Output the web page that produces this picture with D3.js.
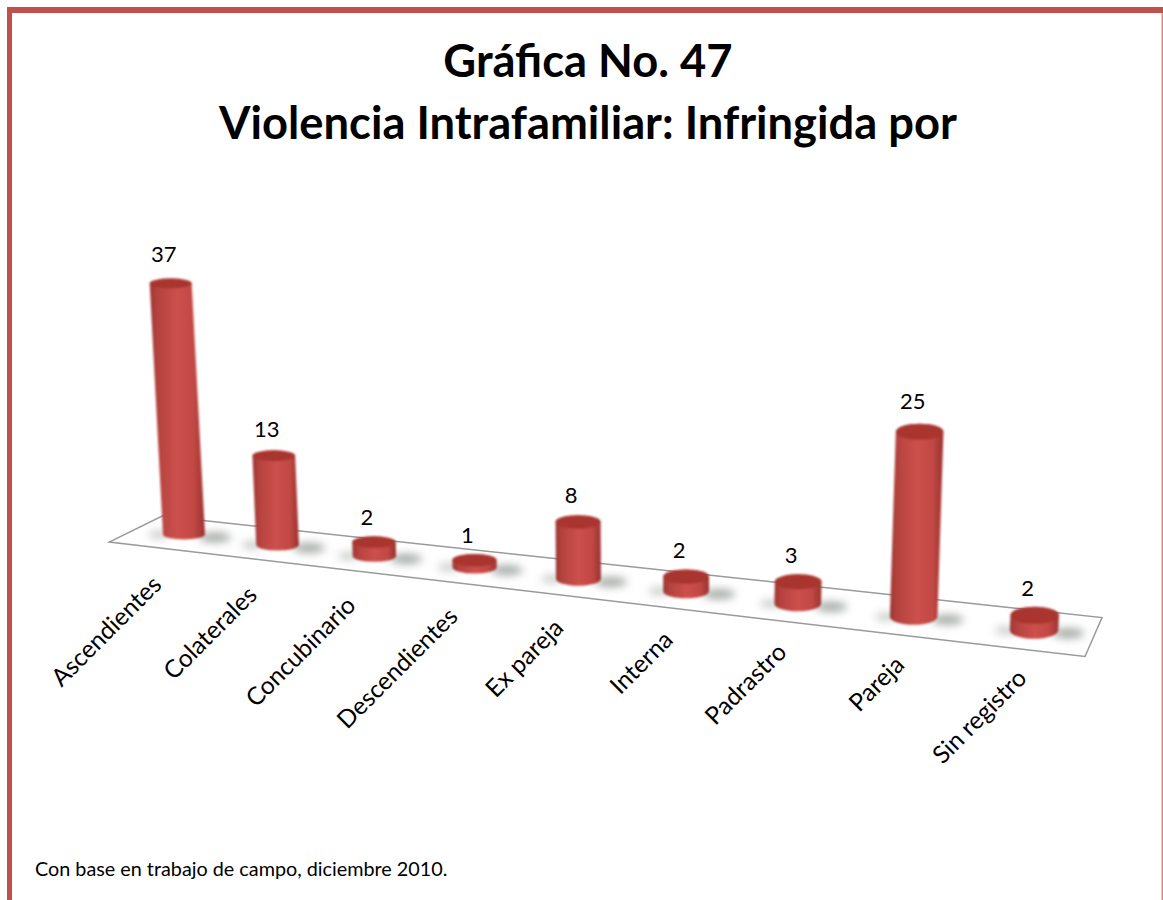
<!DOCTYPE html>
<html>
<head>
<meta charset="utf-8">
<script src="https://cdn.jsdelivr.net/npm/d3@7"></script>
<style>
	html, body { margin: 0; padding: 0; background: #fff; overflow: hidden; }
	text { font-family: Lato, "Open Sans", sans-serif; fill: #000; }
</style>
</head>
<body>
<div id="chart-area"></div>
<script>
// Data
var categories = ["Ascendientes", "Colaterales", "Concubinario", "Descendientes", "Ex pareja", "Interna", "Padrastro", "Pareja", "Sin registro"];
var values = [37, 13, 2, 1, 8, 2, 3, 25, 2];
var titleLines = ["Gráfica No. 47", "Violencia Intrafamiliar: Infringida por"];
var note = "Con base en trabajo de campo, diciembre 2010.";

var width = 1163, height = 900;

var svg = d3.select("#chart-area")
	.append("svg")
		.attr("width", width)
		.attr("height", height);

var defs = svg.append("defs");

// Horizontal shading of the cylinders
var grad = defs.append("linearGradient").attr("id", "body");
[[0, "#9c3733"], [0.14, "#b5423e"], [0.5, "#cc504c"], [0.8, "#c24844"], [1, "#983330"]].forEach((s) => {
	grad.append("stop").attr("offset", s[0]).attr("stop-color", s[1]);
});
defs.append("filter").attr("id", "soft")
	.attr("x", "-40%").attr("y", "-80%").attr("width", "180%").attr("height", "260%")
	.append("feGaussianBlur").attr("stdDeviation", 4);
defs.append("filter").attr("id", "edge")
	.append("feGaussianBlur").attr("stdDeviation", 0.8);

// Scales. Category position goes through a perspective divide so the bars
// get bigger and further apart towards the right, like the 3D chart
var position = d3.scalePoint().domain(categories).range([0, 8]);
var shrink = 0.01677;
var persp = (i) => 1 / (1 - shrink * i);
var floorX = d3.scaleLinear().domain([0, 1]).range([184, 276]);
var floorY = d3.scaleLinear().domain([135, 1093]).range([529, 637]);
var yValue = d3.scaleLinear().domain([0, 37]).range([0, 251]);
var growth = d3.scaleLinear().domain([0, 8]).range([1, 1.104]);
var radius = 21;
var capRy = d3.scaleLinear().domain([0, 8]).range([5, 8.5]);
var lean = d3.scaleLinear().domain([184, 637]).range([-0.053, 0]);
var iStart = -0.53, iEnd = 8.48;
var depthX = d3.scaleLinear().domain([iStart, iEnd]).range([26.5, 8.5]);
var depthY = d3.scaleLinear().domain([iStart, iEnd]).range([13, 19.5]);
var labelDx = d3.scaleLinear().domain([0, 8]).range([-21, -6]);
var labelDy = d3.scaleLinear().domain([0, 8]).range([54, 50]);

// Point on the floor: i along the categories, d across the floor (-1 front, 1 back)
function project(i, d) {
	var x = floorX(i * persp(i));
	return [x + d * depthX(i), floorY(x) - d * depthY(i)];
}

// Frame of the page
var frameColor = "#c0504d";
svg.append("rect").attr("x", 7).attr("y", 7).attr("width", width).attr("height", 6).attr("fill", frameColor);
svg.append("rect").attr("x", 7).attr("y", 7).attr("width", 5).attr("height", height).attr("fill", frameColor);
svg.append("rect").attr("x", 1161.5).attr("y", 13).attr("width", 1.5).attr("height", height).attr("fill", "#d98a87");

// Title
svg.selectAll(".title")
	.data(titleLines)
	.enter()
	.append("text")
		.attr("class", "title")
		.attr("x", 588)
		.attr("y", (d, n) => 77 + n * 62)
		.attr("text-anchor", "middle")
		.attr("font-size", 45.3)
		.attr("font-weight", 700)
		.text((d) => d);

// Floor
var floorPts = [project(iStart, -1), project(iStart, 1), project(iEnd, 1), project(iEnd, -1)];
svg.append("path")
	.attr("d", d3.line()(floorPts) + "Z")
	.attr("fill", "#fff")
	.attr("stroke", "#9a9a9a")
	.attr("stroke-width", 1.5);

var bars = categories.map((c, n) => {
	var i = position(c);
	var p = project(i, 0);
	var r = radius * persp(i);
	var h = yValue(values[n]) * growth(i);
	var top = [p[0] + lean(p[0]) * h, p[1] - h];
	return { name: c, value: values[n], i: i, base: p, top: top, r: r, ry: capRy(i) };
});

// Shadows on the floor, either side of each bar
var shadows = svg.append("g").attr("filter", "url(#soft)");
shadows.selectAll(".right")
	.data(bars)
	.enter()
	.append("ellipse")
		.attr("cx", (d) => d.base[0] + d.r + 10)
		.attr("cy", (d) => d.base[1] + 3)
		.attr("rx", 16)
		.attr("ry", 5)
		.attr("fill", "#a4aaa6");
shadows.selectAll(".left")
	.data(bars)
	.enter()
	.append("ellipse")
		.attr("cx", (d) => d.base[0] - d.r - 4)
		.attr("cy", (d) => d.base[1])
		.attr("rx", 11)
		.attr("ry", 4)
		.attr("fill", "#c8ccc8");

// Cylinders
var cyl = svg.selectAll(".bar")
	.data(bars)
	.enter()
	.append("g")
		.attr("class", "bar")
		.attr("filter", "url(#edge)");

cyl.append("path")
	.attr("d", (d) => {
		var p = d3.path();
		p.moveTo(d.top[0] - d.r, d.top[1]);
		p.lineTo(d.base[0] - d.r, d.base[1]);
		return p.toString() +
			`A${d.r},${d.ry} 0 0 0 ${d.base[0] + d.r},${d.base[1]}` +
			`L${d.top[0] + d.r},${d.top[1]}` +
			`A${d.r},${d.ry} 0 0 0 ${d.top[0] - d.r},${d.top[1]}Z`;
	})
	.attr("fill", "url(#body)");

cyl.append("ellipse")
	.attr("cx", (d) => d.top[0])
	.attr("cy", (d) => d.top[1])
	.attr("rx", (d) => d.r)
	.attr("ry", (d) => d.ry)
	.attr("fill", "#a9342f");

// Value labels
svg.selectAll(".value")
	.data(bars)
	.enter()
	.append("text")
		.attr("class", "value")
		.attr("x", (d) => d.top[0] - 7)
		.attr("y", (d) => d.top[1] - d.ry - 11 - d.value * 0.15)
		.attr("text-anchor", "middle")
		.attr("font-size", 22)
		.text((d) => d.value);

// Category labels, rotated and ending under the front edge of the floor
svg.selectAll(".cat")
	.data(bars)
	.enter()
	.append("text")
		.attr("class", "cat")
		.attr("text-anchor", "end")
		.attr("font-size", 24.5)
		.attr("transform", (d) => {
			var lx = d.base[0] + labelDx(d.i);
			var ly = floorY(lx) + labelDy(d.i);
			return `translate(${lx},${ly}) rotate(-45)`;
		})
		.text((d) => d.name);

// Note
svg.append("text")
	.attr("x", 35)
	.attr("y", 876)
	.attr("font-size", 19.8)
	.text(note);
</script>
</body>
</html>
